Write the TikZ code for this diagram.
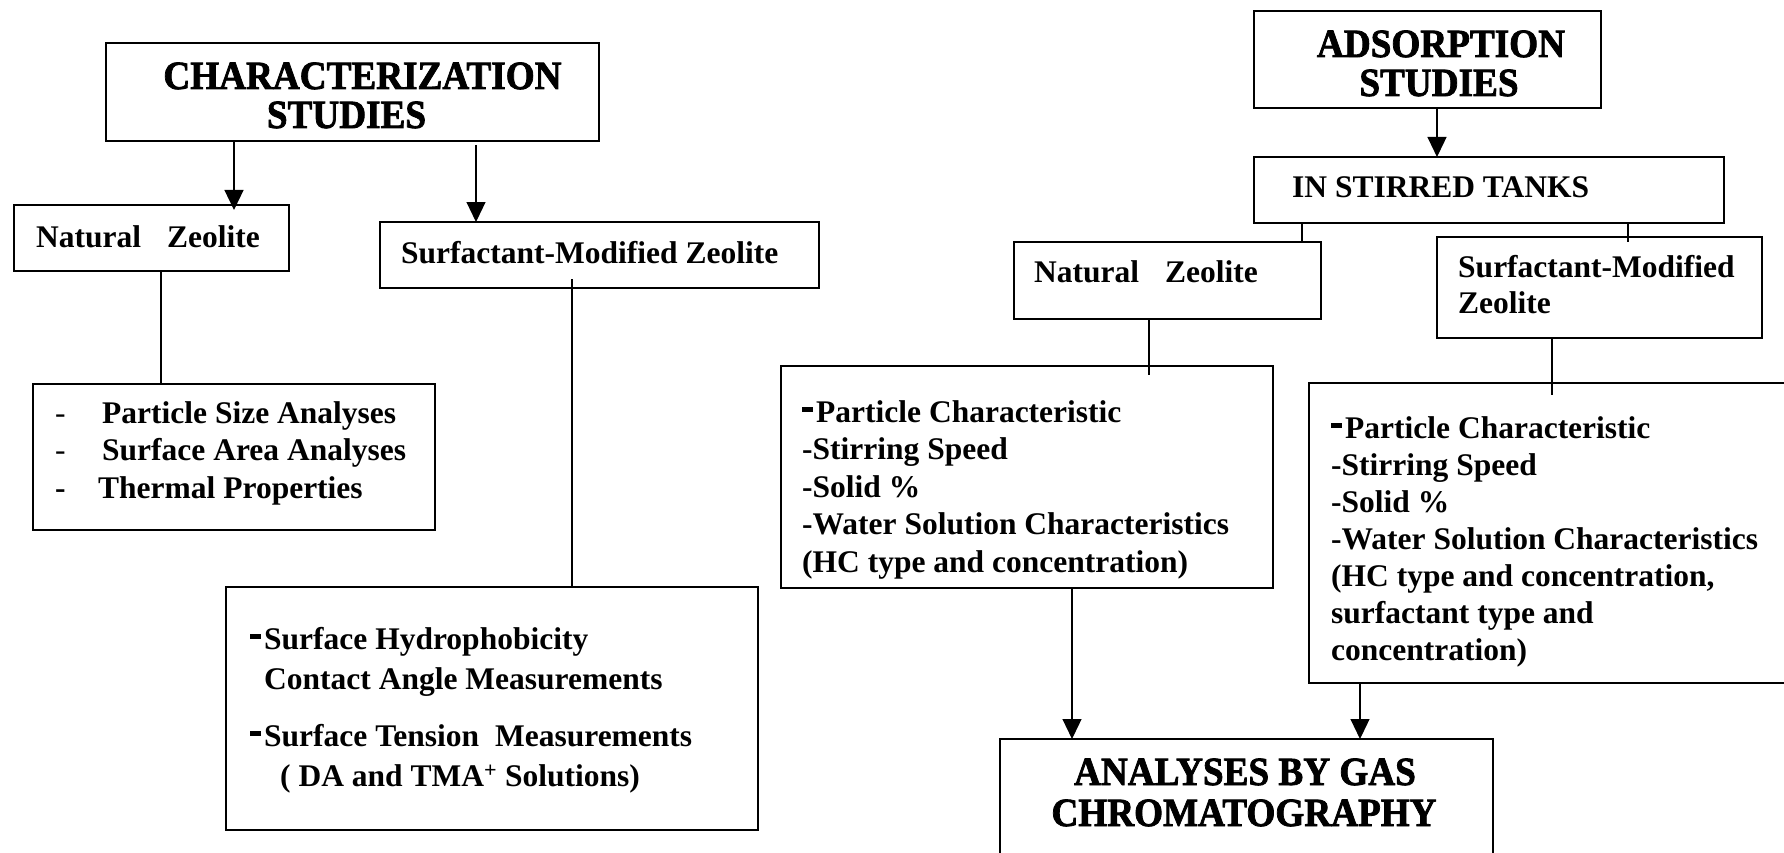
\documentclass[tikz,border=0pt]{standalone}
\usepackage{fontspec}
\setmainfont{Liberation Serif}
\newfontfamily\titlefont[FakeBold=2]{Liberation Serif Bold}
\usetikzlibrary{arrows.meta}
\newcommand{\bulmark}{\makebox[14pt][l]{\rule[10pt]{11pt}{5pt}}}
\newcommand{\heavy}[1]{\scalebox{0.93}[1]{#1}}
\begin{document}
\begin{tikzpicture}[x=1pt,y=-1pt,
  box/.style={draw, line width=1.6pt, rectangle, inner sep=0pt, outer sep=0pt, anchor=north west},
  conn/.style={line width=1.2pt},
  arr/.style={line width=1.2pt, -{Triangle[length=20pt,width=19pt]}},
  body/.style={font=\fontsize{31.5}{37.5}\selectfont\bfseries, inner sep=0pt, align=left},
  title/.style={font=\fontsize{40}{46}\selectfont\titlefont, inner sep=0pt, anchor=base},
]
\useasboundingbox (0,0) rectangle (1784,853);
\clip (0,0) rectangle (1784,853);

% boxes
\node[box, minimum width=493pt, minimum height=98pt] (char) at (106,43) {};
\node[box, minimum width=275pt, minimum height=66pt] (nzL) at (14,205) {};
\node[box, minimum width=439pt, minimum height=66pt] (smzL) at (380,222) {};
\node[box, minimum width=402pt, minimum height=146pt] (propL) at (33,384) {};
\node[box, minimum width=532pt, minimum height=243pt] (propS) at (226,587) {};
\node[box, minimum width=347pt, minimum height=97pt] (ads) at (1254,11) {};
\node[box, minimum width=470pt, minimum height=66pt] (tank) at (1254,157) {};
\node[box, minimum width=307pt, minimum height=77pt] (nzR) at (1014,242) {};
\node[box, minimum width=325pt, minimum height=101pt] (smzR) at (1437,237) {};
\node[box, minimum width=492pt, minimum height=222pt] (propNR) at (781,366) {};
\node[box, minimum width=500pt, minimum height=300pt] (propSR) at (1309,383) {};
\node[box, minimum width=493pt, minimum height=140pt] (gc) at (1000,739) {};

% titles
\node[title] (tChar1) at (362.5,89) {\heavy{CHARACTERIZATION}};
\node[title] (tChar2) at (346.5,128) {\heavy{STUDIES}};
\node[title] (tAds1) at (1441,57) {\heavy{ADSORPTION}};
\node[title] (tAds2) at (1439,96) {\heavy{STUDIES}};
\node[title] (tGc1) at (1245,785) {\heavy{ANALYSES BY GAS}};
\node[title] (tGc2) at (1244,826) {\heavy{CHROMATOGRAPHY}};

% body texts
\node[body, anchor=base west] (tNzL) at (36,247) {Natural\hspace{26pt}Zeolite};
\node[body, anchor=base west] (tSmzL) at (401,263) {Surfactant-Modified Zeolite};
\node[body, anchor=north west] (tPropL) at (55,399) {\rule{0pt}{24pt}\makebox[47pt][l]{\mdseries -}Particle Size Analyses\\
\makebox[47pt][l]{\mdseries -}Surface Area Analyses\\
\makebox[43pt][l]{-}Thermal Properties};
\node[body, anchor=north west, font=\fontsize{31.5}{40}\selectfont\bfseries] (tPropS) at (250,625) {\rule{0pt}{24pt}\bulmark Surface Hydrophobicity\\
\hspace{14pt}Contact Angle Measurements\\[17pt]
\bulmark Surface Tension\hspace{8pt} Measurements\\
\hspace{30pt}( DA and TMA\textsuperscript{+} Solutions)};
\node[body, anchor=base west] (tTank) at (1292,197) {IN STIRRED TANKS};
\node[body, anchor=base west] (tNzR) at (1034,282) {Natural\hspace{26pt}Zeolite};
\node[body, anchor=north west, font=\fontsize{31.5}{36}\selectfont\bfseries] (tSmzR) at (1458,253) {\rule{0pt}{24pt}Surfactant-Modified\\Zeolite};
\node[body, anchor=north west] (tPropNR) at (802,398) {\rule{0pt}{24pt}\bulmark Particle Characteristic\\
-Stirring Speed\\
-Solid \%\\
-Water Solution Characteristics\\
(HC type and concentration)};
\node[body, anchor=north west, font=\fontsize{31.5}{37}\selectfont\bfseries] (tPropSR) at (1331,414) {\rule{0pt}{24pt}\bulmark Particle Characteristic\\
-Stirring Speed\\
-Solid \%\\
-Water Solution Characteristics\\
(HC type and concentration,\\
surfactant type and\\
concentration)};

% x positions of connectors
\coordinate (xa) at (234,0);
\coordinate (xb) at (476,0);
\coordinate (xc) at (161,0);
\coordinate (xd) at (572,0);
\coordinate (xe) at (1437,0);
\coordinate (xf) at (1302,0);
\coordinate (xg) at (1628,0);
\coordinate (xh) at (1149,0);
\coordinate (xi) at (1552,0);
\coordinate (xj) at (1072,0);
\coordinate (xk) at (1360,0);

% connectors
\draw[arr, shorten >=-5pt] (char.south -| xa) -- (nzL.north -| xa);
\draw[arr, shorten <=4pt] (char.south -| xb) -- (smzL.north -| xb);
\draw[conn] (nzL.south -| xc) -- (propL.north -| xc);
\draw[conn, shorten <=-9pt] (smzL.south -| xd) -- (propS.north -| xd);
\draw[arr] (ads.south -| xe) -- (tank.north -| xe);
\draw[conn] (tank.south -| xf) -- (nzR.north -| xf);
\draw[conn, shorten >=-5pt] (tank.south -| xg) -- (smzR.north -| xg);
\draw[conn, shorten >=-9pt] (nzR.south -| xh) -- (propNR.north -| xh);
\draw[conn, shorten >=-12pt] (smzR.south -| xi) -- (propSR.north -| xi);
\draw[arr] (propNR.south -| xj) -- (gc.north -| xj);
\draw[arr] (propSR.south -| xk) -- (gc.north -| xk);
\end{tikzpicture}
\end{document}
